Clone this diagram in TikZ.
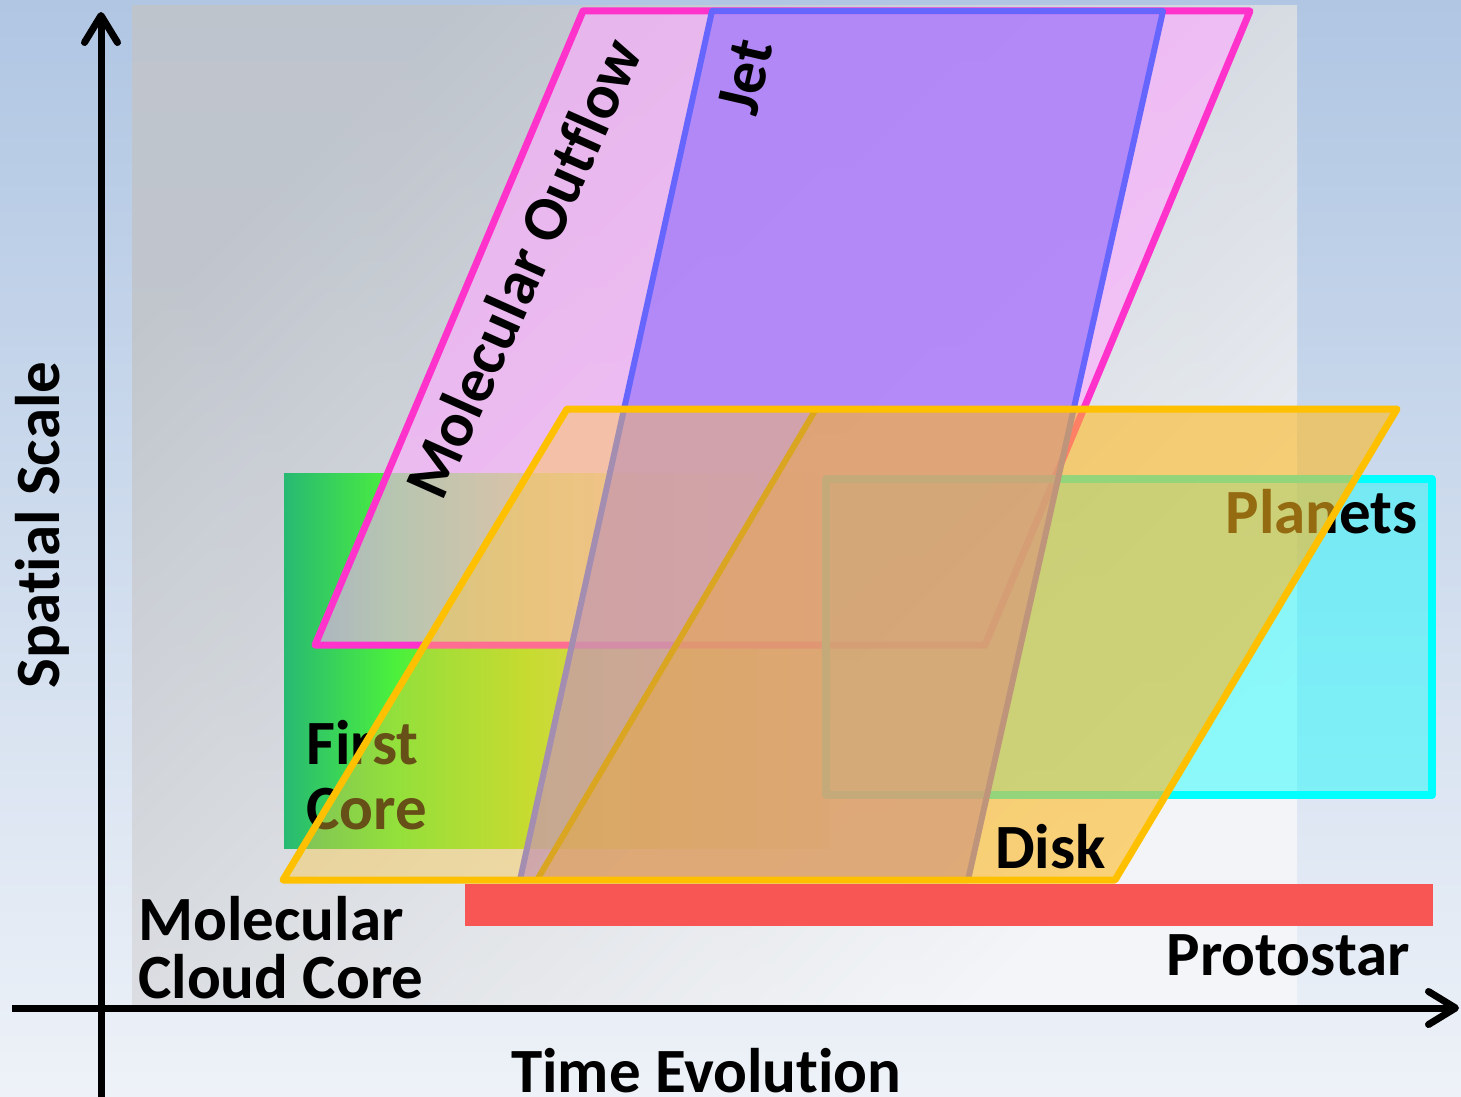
\documentclass[tikz,border=0pt]{standalone}
\usepackage{fontspec}
\setmainfont{Carlito}[Ligatures=NoCommon]
\usetikzlibrary{arrows.meta}

% palette
\definecolor{bgtop}{RGB}{176,198,227}
\definecolor{bgbot}{RGB}{238,242,248}
\definecolor{panelA}{RGB}{193,196,201}
\definecolor{panelB}{RGB}{246,247,249}
\definecolor{outflowline}{RGB}{255,51,204}
\definecolor{outflowfill}{RGB}{255,170,255}
\definecolor{jetline}{RGB}{102,102,255}
\definecolor{jetfill}{RGB}{160,120,250}
\definecolor{diskline}{RGB}{255,192,0}
\definecolor{diskfill}{RGB}{255,200,60}
\definecolor{diskinner}{RGB}{255,170,0}
\definecolor{diskedge}{RGB}{218,165,32}
\definecolor{planetline}{RGB}{0,255,255}
\definecolor{starbar}{RGB}{248,85,85}
\definecolor{fcA}{RGB}{40,185,115}
\definecolor{fcB}{RGB}{75,240,60}
\definecolor{fcC}{RGB}{160,232,40}
\definecolor{fcD}{RGB}{210,226,110}
\definecolor{fcE}{RGB}{218,221,212}

% green band of the first core, fading to grey on the right
\pgfdeclarehorizontalshading{firstcoreshade}{100bp}{color(0bp)=(fcA); color(25bp)=(fcA); color(35bp)=(fcB); color(47bp)=(fcC); color(60bp)=(fcD); color(75bp)=(fcE); color(100bp)=(fcE)}

\tikzset{
  labeltext/.style={font=\bfseries\fontsize{63}{63}\selectfont, text=black, inner sep=0pt},
  axisline/.style={line width=7pt, -{Straight Barb[length=27pt,width=33pt,line cap=round,line join=round]}},
  outflowshape/.style={fill=outflowfill, fill opacity=0.6, draw=outflowline, draw opacity=1, line width=7pt, line join=round},
  jetshape/.style={fill=jetfill, fill opacity=0.75, draw=jetline, draw opacity=1, line width=6pt, line join=round},
  planetshape/.style={fill=planetline, fill opacity=0.42, draw=planetline, draw opacity=1, line width=8pt, line join=round},
}

\begin{document}
\begin{tikzpicture}[x=1pt,y=-1pt]
\useasboundingbox (0,0) rectangle (1461,1097);

% background and plotting panel
\shade[top color=bgtop, bottom color=bgbot] (0,0) rectangle (1461,1097);
\shade[top color=panelA, bottom color=panelB, shading angle=45, opacity=0.85] (132,6) rectangle (1297,1005);

% first core band
\shade[shading=firstcoreshade] (284,473) rectangle (830,848);

% molecular outflow
\path[outflowshape] (583,11) -- (1250,11) -- (985,645) -- (315,645) -- cycle;
\node[labeltext, rotate=66] (outflow) at (523,268) {Molecular Outflow};

% planets
\path[planetshape] (826,479) rectangle (1432,795);

% jet
\path[jetshape] (712,11) -- (1163,11) -- (968,880) -- (520,880) -- cycle;
\node[labeltext, rotate=77] (jet) at (745,77) {Jet};

% labels lying under the disk
\node[labeltext, anchor=base west] (firstlbl) at (306,764) {First};
\node[labeltext, anchor=base west] (corelbl) at (306,829) {Core};
\node[labeltext, anchor=base east] (planets) at (1418,533) {Planets};

% disk (two overlapping layers)
\fill[diskfill, opacity=0.4] (567,409) -- (1397,409) -- (1115,880) -- (283,880) -- cycle;
\fill[diskinner, opacity=0.3] (816,409) -- (1397,409) -- (1115,880) -- (537,880) -- cycle;
\draw[diskedge, line width=6pt] (816,409) -- (537,880);
\draw[diskline, line width=7pt, line join=round] (567,409) -- (1397,409) -- (1115,880) -- (283,880) -- cycle;
\node[labeltext, anchor=base west] (disk) at (995,868) {Disk};

% protostar
\fill[starbar] (465,884) rectangle (1433,926);
\node[labeltext, anchor=base east] (proto) at (1410,975) {Protostar};

% molecular cloud core
\node[labeltext, anchor=base west] (mcc1) at (138,940) {Molecular};
\node[labeltext, anchor=base west] (mcc2) at (138,998) {Cloud Core};

% axes
\coordinate (ybottom) at (101,1097);
\coordinate (ytop) at (101,12);
\coordinate (xleft) at (12,1008);
\coordinate (xright) at (1459,1008);
\draw[axisline] (ybottom) -- (ytop);
\draw[axisline] (xleft) -- (xright);
\node[labeltext, anchor=base west] (timelbl) at (511,1092) {Time Evolution};
\node[labeltext, rotate=90] (spatial) at (42,525) {Spatial Scale};
\end{tikzpicture}
\end{document}
